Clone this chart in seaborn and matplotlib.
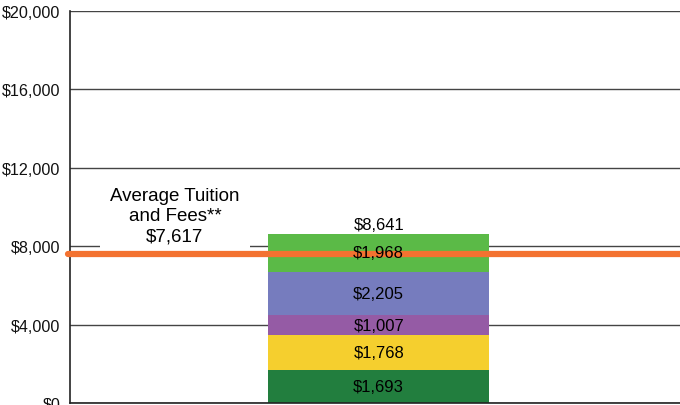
import matplotlib
matplotlib.use("Agg")
import matplotlib.pyplot as plt
import matplotlib.ticker as mticker
import numpy as np
import pandas as pd
import seaborn as sns

# ---- data ----
segments = ["Segment 1", "Segment 2", "Segment 3", "Segment 4", "Segment 5"]
values = [1693, 1768, 1007, 2205, 1968]
colors = ["#227E3E", "#F5CF2E", "#955BA5", "#767CBE", "#5BBA47"]
average_tuition = 7617
avg_label = "Average Tuition\nand Fees**\n$7,617"
yticks = [0, 4000, 8000, 12000, 16000, 20000]

sns.set_theme(style="white")
plt.rcParams["font.family"] = ["Liberation Sans", "DejaVu Sans"]

fig = plt.figure(figsize=(6.8, 4.06), dpi=100)
ax = fig.add_axes([70 / 680, 2 / 406, 610 / 680, 392 / 406])

cum = np.cumsum(values)
bottoms = cum - np.array(values)
df = pd.DataFrame({"cat": ["A"] * len(values), "top": cum, "seg": segments})

# draw cumulative bars from tallest to shortest (painter's stacking)
for i in range(len(values) - 1, -1, -1):
    sns.barplot(data=df.iloc[[i]], x="cat", y="top", color=colors[i],
                width=0.362, saturation=1, ax=ax, zorder=2, linewidth=0)

ax.set_xlim(-0.506, 0.494)
ax.set_ylim(0, 20000)
ax.set_yticks(yticks)
ax.yaxis.set_major_formatter(mticker.FuncFormatter(lambda v, p: f"${v:,.0f}"))
ax.tick_params(axis="y", length=0, pad=7, labelsize=11.6, colors="#111111")
ax.set_xticks([])
ax.set_xlabel("")
ax.set_ylabel("")
ax.grid(axis="y", color="#444444", linewidth=1)
ax.set_axisbelow(True)
for s in ["top", "right"]:
    ax.spines[s].set_visible(False)
for s in ["left", "bottom"]:
    ax.spines[s].set_color("#222222")
    ax.spines[s].set_linewidth(1.2)

# segment labels
for b, v in zip(bottoms, values):
    ax.text(0, b + v / 2, f"${v:,}", ha="center", va="center",
            fontsize=12, color="#000000", zorder=5)
ax.annotate(f"${cum[-1]:,}", (0, cum[-1]), xytext=(0, 1), textcoords="offset points",
            ha="center", va="bottom", fontsize=12, color="#000000", zorder=5)

# average line
ax.axhline(average_tuition, color="#F37230", linewidth=4.5, zorder=3,
           solid_capstyle="round", clip_on=False, xmin=-0.003)

ax.text(0.172, 0.478, avg_label, transform=ax.transAxes, ha="center", va="center",
        fontsize=13.5, color="#000000", linespacing=1.27, zorder=1,
        bbox=dict(boxstyle="square,pad=0.55", facecolor="white", edgecolor="none"))

fig.savefig("out.png", dpi=100)
